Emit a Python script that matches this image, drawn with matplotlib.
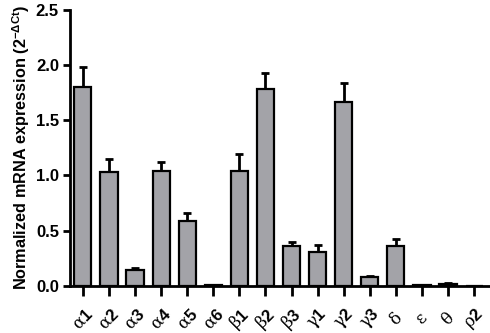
import numpy as np
import matplotlib
matplotlib.use("Agg")
import matplotlib.pyplot as plt
from matplotlib.transforms import ScaledTranslation

# Subunit expression data
subunits = [r"$\mathrm{\alpha}$1", r"$\mathrm{\alpha}$2", r"$\mathrm{\alpha}$3",
            r"$\mathrm{\alpha}$4", r"$\mathrm{\alpha}$5", r"$\mathrm{\alpha}$6",
            r"$\mathrm{\beta}$1", r"$\mathrm{\beta}$2", r"$\mathrm{\beta}$3",
            r"$\mathrm{\gamma}$1", r"$\mathrm{\gamma}$2", r"$\mathrm{\gamma}$3",
            r"$\mathrm{\delta}$", r"$\mathrm{\varepsilon}$", r"$\mathrm{\theta}$",
            r"$\mathrm{\rho}$2"]
expression = [1.80, 1.03, 0.145, 1.04, 0.59, 0.005, 1.04, 1.78,
              0.36, 0.31, 1.67, 0.08, 0.36, 0.005, 0.02, 0.0]
sem = [0.18, 0.12, 0.015, 0.08, 0.07, 0.0, 0.15, 0.15,
       0.04, 0.055, 0.17, 0.01, 0.06, 0.0, 0.005, 0.0]

plt.rcParams["font.family"] = ["Liberation Sans", "DejaVu Sans"]
plt.rcParams["mathtext.fontset"] = "custom"
plt.rcParams["mathtext.rm"] = "DejaVu Serif"

fig = plt.figure(figsize=(4.9, 3.33), dpi=100)
ax = fig.add_axes([0.143, 0.142, 0.855, 0.828])

x = np.arange(len(subunits))
ax.bar(x, expression, width=0.66, color="#a3a3a8", edgecolor="black",
       linewidth=1.6, zorder=2)
ax.errorbar(x, expression, yerr=[np.zeros(len(sem)), sem], fmt="none",
            ecolor="black", elinewidth=2, capsize=3.2, capthick=2, zorder=1)

ax.set_xlim(-0.49, 15.57)
ax.set_ylim(0, 2.5)
ax.set_yticks([0.0, 0.5, 1.0, 1.5, 2.0, 2.5])
ax.set_yticklabels(["0.0", "0.5", "1.0", "1.5", "2.0", "2.5"],
                   fontsize=12, fontweight="bold")
ax.set_xticks(x)
ax.set_xticklabels(subunits, fontsize=12, fontweight="bold")
# labels sit diagonally, a little right of each tick
shift = ScaledTranslation(5 / 100, 0, fig.dpi_scale_trans)
for lbl in ax.get_xticklabels():
    lbl.set_rotation(45)
    lbl.set_rotation_mode("anchor")
    lbl.set_ha("center")
    lbl.set_va("center")
    lbl.set_transform(lbl.get_transform() + shift)
ax.tick_params(axis="x", length=7, width=2, pad=17)
ax.tick_params(axis="y", length=5, width=2, pad=3)

ax.spines["top"].set_visible(False)
ax.spines["right"].set_visible(False)
ax.spines["left"].set_linewidth(2)
ax.spines["bottom"].set_linewidth(2)

ax.set_ylabel("Normalized mRNA expression (2$^{\\mathregular{-\\Delta Ct}}$)",
              fontsize=11.7, fontweight="bold", labelpad=3)

fig.savefig("out.png", dpi=100)
